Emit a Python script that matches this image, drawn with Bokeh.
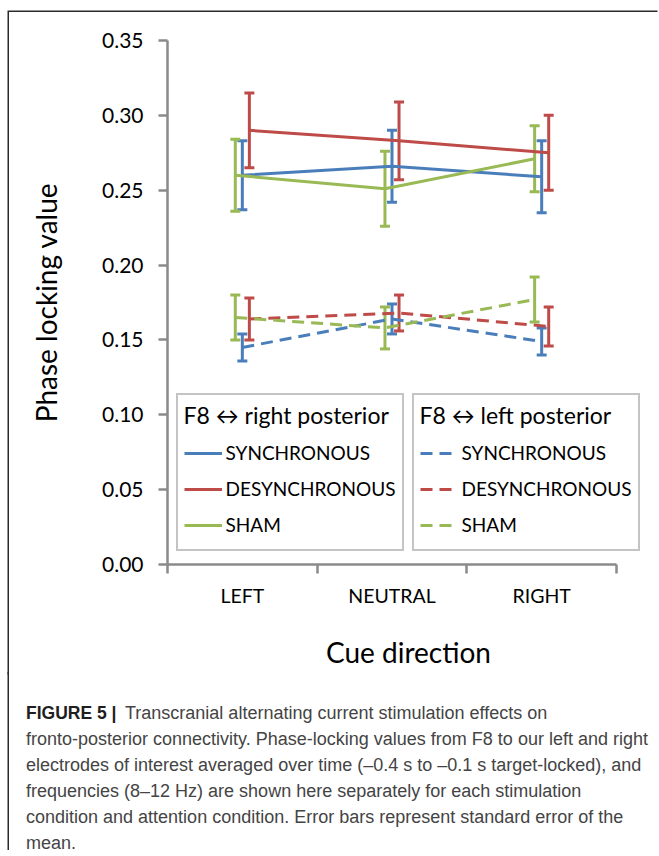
from bokeh.plotting import figure
from bokeh.models import (Range1d, FixedTicker, NumeralTickFormatter, Whisker, TeeHead,
                          ColumnDataSource, Legend, LegendItem)
from bokeh.core.properties import value
from bokeh.embed import file_html
from bokeh.resources import INLINE

# ---------------- data ----------------
categories = ["LEFT", "NEUTRAL", "RIGHT"]
y_ticks = [0.00, 0.05, 0.10, 0.15, 0.20, 0.25, 0.30, 0.35]

# F8 <-> right posterior (solid lines)
right_sync_mean = [0.260, 0.266, 0.259]
right_sync_se = [0.023, 0.024, 0.024]
right_desync_mean = [0.290, 0.283, 0.275]
right_desync_se = [0.025, 0.026, 0.025]
right_sham_mean = [0.260, 0.251, 0.271]
right_sham_se = [0.024, 0.025, 0.022]

# F8 <-> left posterior (dashed lines)
left_sync_mean = [0.145, 0.164, 0.149]
left_sync_se = [0.009, 0.010, 0.009]
left_desync_mean = [0.164, 0.168, 0.159]
left_desync_se = [0.014, 0.012, 0.013]
left_sham_mean = [0.165, 0.158, 0.177]
left_sham_se = [0.015, 0.014, 0.015]

caption_bold = "FIGURE 5 |"
caption_lines = [
    "Transcranial alternating current stimulation effects on",
    "fronto-posterior connectivity. Phase-locking values from F8 to our left and right",
    "electrodes of interest averaged over time (\u20130.4 s to \u20130.1 s target-locked), and",
    "frequencies (8\u201312 Hz) are shown here separately for each stimulation",
    "condition and attention condition. Error bars represent standard error of the",
    "mean.",
]

# ---------------- layout / styles ----------------
BLUE, RED, GREEN = "#4a7ebb", "#be4b48", "#98b954"
AXIS_GRAY = "#8a8a8a"
FRAME_COLOR = "#2b2b2b"
DASH = "12 7"
offsets = {"SYNCHRONOUS": 0.0, "DESYNCHRONOUS": 0.047, "SHAM": -0.047}

W = 650
H1, H2 = 664, 178
F_LEFT, F_TOP, F_BOTTOM, F_RIGHT = 158, 28, 552, 640
CAT_PX = 449 / 3.0
Y_MAX = 0.35
X_END = (F_RIGHT - F_LEFT) / CAT_PX   # frame extends right so the legend fits

p = figure(width=W, height=H1, x_range=Range1d(0, X_END), y_range=Range1d(0, Y_MAX),
           output_backend="svg", toolbar_location=None, tools="",
           min_border_left=F_LEFT, min_border_right=W - F_RIGHT, min_border_top=F_TOP,
           min_border_bottom=H1 - F_BOTTOM)
p.styles = {"box-shadow": f"-1.5px -1.5px 0 0 {FRAME_COLOR}",
            "margin-left": "8.5px", "margin-top": "11.5px",
            "vertical-align": "top"}
p.outline_line_color = None
p.xgrid.visible = False
p.ygrid.visible = False
p.background_fill_color = "white"
p.border_fill_color = "white"

# y axis
p.yaxis.ticker = FixedTicker(ticks=y_ticks)
p.yaxis.formatter = NumeralTickFormatter(format="0.00")
p.yaxis.axis_line_color = AXIS_GRAY
p.yaxis.axis_line_width = 2.5
p.yaxis.major_tick_line_color = AXIS_GRAY
p.yaxis.major_tick_line_width = 2.5
p.yaxis.major_tick_out = 9
p.yaxis.major_tick_in = 0
p.yaxis.minor_tick_line_color = None
p.yaxis.major_label_standoff = 15
p.yaxis.major_label_text_font = "Lato"
p.yaxis.major_label_text_font_size = "21px"
p.yaxis.major_label_text_color = "black"
p.yaxis.axis_label = "Phase locking value"
p.yaxis.axis_label_text_font = "Lato"
p.yaxis.axis_label_text_font_size = "28px"
p.yaxis.axis_label_text_font_style = "normal"
p.yaxis.axis_label_text_color = "black"
p.yaxis.axis_label_standoff = 36

# x axis: labels at category centres, tick marks between categories
p.xaxis.bounds = (0, len(categories))
p.xaxis.ticker = FixedTicker(ticks=[i + 0.5 for i in range(len(categories))],
                             minor_ticks=list(range(len(categories) + 1)))
p.xaxis.major_label_overrides = {i + 0.5: c for i, c in enumerate(categories)}
p.xaxis.axis_line_color = AXIS_GRAY
p.xaxis.axis_line_width = 2.5
p.xaxis.major_tick_line_color = None
p.xaxis.major_tick_out = 0
p.xaxis.major_tick_in = 0
p.xaxis.minor_tick_line_color = AXIS_GRAY
p.xaxis.minor_tick_line_width = 2.5
p.xaxis.minor_tick_out = 9
p.xaxis.minor_tick_in = 0
p.xaxis.major_label_standoff = 10
p.xaxis.major_label_text_font = "Lato"
p.xaxis.major_label_text_font_size = "19.5px"
p.xaxis.major_label_text_color = "black"
p.xaxis.axis_label = "Cue direction"
p.xaxis.axis_label_text_font = "Lato"
p.xaxis.axis_label_text_font_size = "28px"
p.xaxis.axis_label_text_font_style = "normal"
p.xaxis.axis_label_text_color = "black"
p.xaxis.axis_label_standoff = 25


def add_series(name, mean, se, color, dash):
    xs = [i + 0.5 + offsets[name] for i in range(len(categories))]
    src = ColumnDataSource(dict(
        x=xs, y=mean,
        upper=[m + s for m, s in zip(mean, se)],
        lower=[m - s for m, s in zip(mean, se)]))
    r = p.line("x", "y", source=src, line_color=color, line_width=3,
               line_dash=dash)
    w = Whisker(source=src, base="x", upper="upper", lower="lower",
                line_color=color, line_width=3,
                upper_head=TeeHead(size=10, line_color=color, line_width=3),
                lower_head=TeeHead(size=10, line_color=color, line_width=3))
    p.add_layout(w)
    return r


r_sync = add_series("SYNCHRONOUS", right_sync_mean, right_sync_se, BLUE, "solid")
r_desync = add_series("DESYNCHRONOUS", right_desync_mean, right_desync_se, RED, "solid")
r_sham = add_series("SHAM", right_sham_mean, right_sham_se, GREEN, "solid")
l_sync = add_series("SYNCHRONOUS", left_sync_mean, left_sync_se, BLUE, DASH)
l_desync = add_series("DESYNCHRONOUS", left_desync_mean, left_desync_se, RED, DASH)
l_sham = add_series("SHAM", left_sham_mean, left_sham_se, GREEN, DASH)


def make_legend(title, rends, loc):
    leg = Legend(
        items=[LegendItem(label=n, renderers=[r]) for n, r in
               zip(["SYNCHRONOUS", "DESYNCHRONOUS", "SHAM"], rends)],
        title=title, location=loc, orientation="vertical",
        border_line_color=AXIS_GRAY, border_line_width=2,
        background_fill_color="white", background_fill_alpha=1.0,
        padding=6, spacing=0, margin=0,
        glyph_width=38, glyph_height=36, label_height=36, label_standoff=4,
        label_text_font="Lato", label_text_font_size="19px",
        label_text_color="black", label_text_baseline="middle",
        title_text_font="Lato", title_text_font_size="23px",
        title_text_font_style="normal", title_text_color="black",
        title_standoff=6)
    p.add_layout(leg)
    return leg


make_legend("F8 \u2194 right posterior", [r_sync, r_desync, r_sham], (9, 13))
make_legend("F8 \u2194 left posterior", [l_sync, l_desync, l_sham], (245, 13))

# ---------------- caption panel ----------------
c = figure(width=W, height=H2, x_range=Range1d(0, W), y_range=Range1d(H2, 0),
           output_backend="svg", toolbar_location=None, tools="",
           min_border=0, x_axis_type=None, y_axis_type=None)
c.styles = {"box-shadow": f"-1.5px 0 0 0 {FRAME_COLOR}", "margin-left": "8.5px",
            "margin-top": "-4px", "vertical-align": "top"}
c.outline_line_color = None
c.xgrid.visible = False
c.ygrid.visible = False
c.background_fill_color = "white"
c.border_fill_color = "white"

CAP_X, BOLD_END, CAP_BASE, CAP_STEP = 16.5, 115.5, 40.5, 26
CAP_FONT = value("Liberation Sans")
c.text(x=[CAP_X], y=[CAP_BASE], text=[caption_bold],
       text_font=CAP_FONT, text_font_size="17.5px", text_font_style="bold",
       text_color="#1e1e1e", text_baseline="alphabetic", text_align="left")
c.text(x=[BOLD_END if i == 0 else CAP_X for i in range(len(caption_lines))],
       y=[CAP_BASE + i * CAP_STEP for i in range(len(caption_lines))],
       text=caption_lines,
       text_font=CAP_FONT, text_font_size="18px",
       text_color="#444444", text_baseline="alphabetic", text_align="left")

open("out.html", "w").write(file_html((p, c), INLINE))
